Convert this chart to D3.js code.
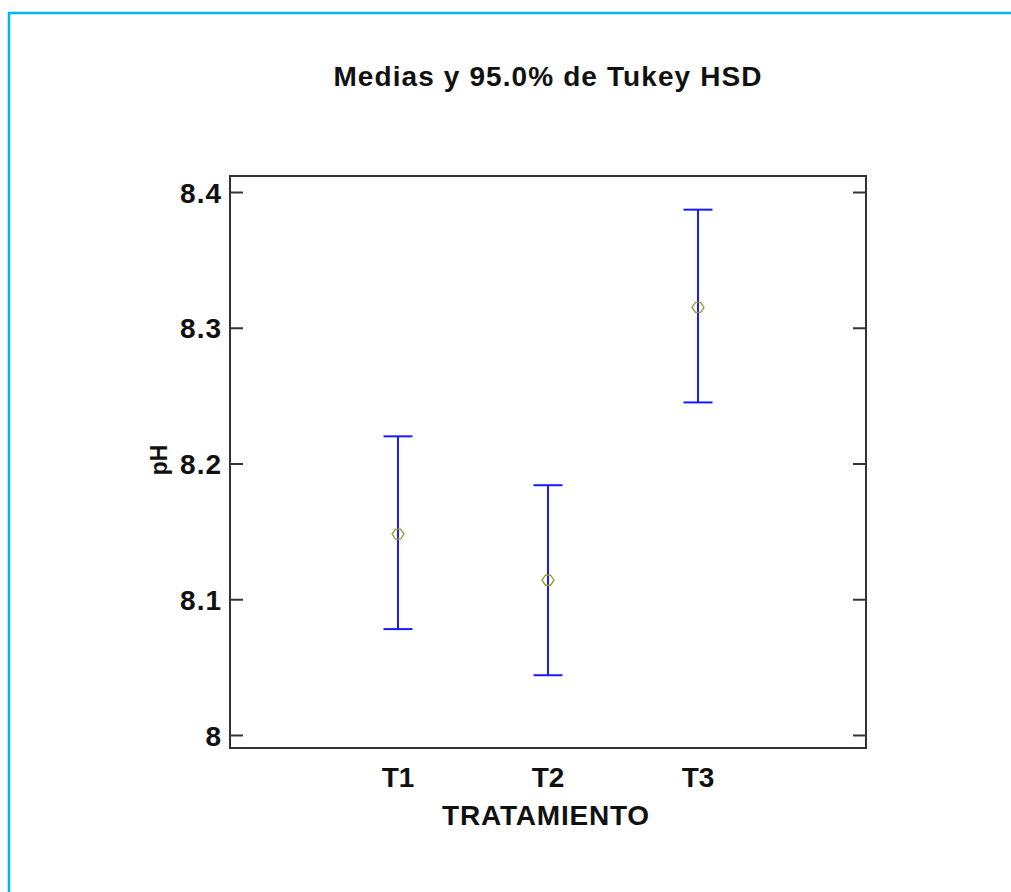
<!DOCTYPE html>
<html>
<head>
<meta charset="utf-8">
<script src="https://cdn.jsdelivr.net/npm/d3@7"></script>
<style>
  body { margin: 0; background: #fff; }
  text { font-family: Arial, "Liberation Sans", sans-serif; font-weight: bold; fill: #111; }
</style>
</head>
<body>
<svg id="chart" width="1011" height="892"></svg>
<script>
// Tukey HSD intervals per treatment
var categories = ["T1", "T2", "T3"];
var means = [8.148, 8.114, 8.315];
var lower = [8.078, 8.044, 8.245];
var upper = [8.220, 8.184, 8.387];
var yTicks = [8, 8.1, 8.2, 8.3, 8.4];

var svg = d3.select("#chart"),
    width = +svg.attr("width"),
    height = +svg.attr("height");

// light blue frame (top + left only)
svg.append("path")
    .attr("d", "M9," + height + " V13 H" + width)
    .attr("fill", "none")
    .attr("stroke", "#00b4f0")
    .attr("stroke-width", 2.5);

var plotL = 230, plotR = 866, plotT = 176, plotB = 748;

var x = d3.scaleLinear().domain([-0.12, 4.12]).range([plotL, plotR]);
var y = d3.scaleLinear().domain([7.9904, 8.4118]).range([plotB, plotT]);

// title
svg.append("text")
    .attr("x", 548).attr("y", 86)
    .attr("text-anchor", "middle")
    .attr("font-size", 28)
    .attr("letter-spacing", 1.1)
    .text("Medias y 95.0% de Tukey HSD");

// y axis: ticks on both sides, pointing inwards
var yAxisL = d3.axisLeft(y).tickValues(yTicks).tickSize(-13).tickPadding(8)
    .tickFormat(function(d) { return d3.format("")(+d.toFixed(1)); });
var gy = svg.append("g").attr("transform", "translate(" + plotL + ",0)").call(yAxisL);
gy.select(".domain").remove();
gy.selectAll("line").attr("stroke", "#333").attr("stroke-width", 2);
gy.selectAll("text")
    .attr("font-size", 28)
    .attr("font-family", "Arial, 'Liberation Sans', sans-serif")
    .attr("letter-spacing", 1)
    .attr("fill", "#111")
    .attr("dy", "0.36em");

var gyR = svg.append("g").attr("transform", "translate(" + plotR + ",0)")
    .call(d3.axisRight(y).tickValues(yTicks).tickSize(-13).tickFormat(""));
gyR.select(".domain").remove();
gyR.selectAll("line").attr("stroke", "#333").attr("stroke-width", 2);

// plot box
svg.append("rect")
    .attr("x", plotL).attr("y", plotT)
    .attr("width", plotR - plotL).attr("height", plotB - plotT)
    .attr("fill", "none").attr("stroke", "#333").attr("stroke-width", 2);

// x labels
svg.selectAll(".xlab")
    .data(categories)
    .enter().append("text")
    .attr("class", "xlab")
    .attr("x", function(d, i) { return x(i + 1); })
    .attr("y", 787)
    .attr("text-anchor", "middle")
    .attr("font-size", 28)
    .text(function(d) { return d; });

svg.append("text")
    .attr("x", 546).attr("y", 825)
    .attr("text-anchor", "middle")
    .attr("font-size", 28)
    .attr("letter-spacing", 0.8)
    .text("TRATAMIENTO");

svg.append("text")
    .attr("transform", "translate(167,460) rotate(-90)")
    .attr("text-anchor", "middle")
    .attr("font-size", 23)
    .text("pH");

// error bars
var bars = svg.append("g").selectAll("g")
    .data(categories)
    .enter().append("g");

bars.append("line")
    .attr("x1", function(d, i) { return x(i + 1); })
    .attr("x2", function(d, i) { return x(i + 1); })
    .attr("y1", function(d, i) { return y(lower[i]); })
    .attr("y2", function(d, i) { return y(upper[i]); });

bars.append("line")
    .attr("x1", function(d, i) { return x(i + 1) - 14.5; })
    .attr("x2", function(d, i) { return x(i + 1) + 14.5; })
    .attr("y1", function(d, i) { return y(upper[i]); })
    .attr("y2", function(d, i) { return y(upper[i]); });

bars.append("line")
    .attr("x1", function(d, i) { return x(i + 1) - 14.5; })
    .attr("x2", function(d, i) { return x(i + 1) + 14.5; })
    .attr("y1", function(d, i) { return y(lower[i]); })
    .attr("y2", function(d, i) { return y(lower[i]); });

bars.selectAll("line").attr("stroke", "#1a1aff").attr("stroke-width", 2);

// mean markers
bars.append("path")
    .attr("d", "M-6,0 L-2.5,-5 L2.5,-5 L6,0 L2.5,5 L-2.5,5 Z")
    .attr("transform", function(d, i) { return "translate(" + x(i + 1) + "," + y(means[i]) + ")"; })
    .attr("fill", "none")
    .attr("stroke", "#9a9a22")
    .attr("stroke-width", 1.3);
</script>
</body>
</html>
